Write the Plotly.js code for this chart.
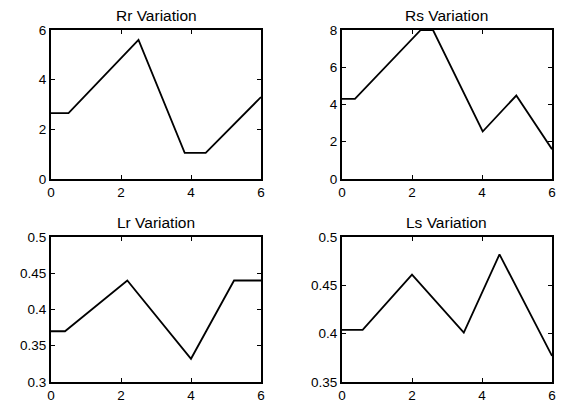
<!DOCTYPE html>
<html>
<head>
<meta charset="utf-8">
<script src="https://cdn.plot.ly/plotly-3.0.1.min.js"></script>
<style>html,body{margin:0;padding:0;background:#fff;}#chart{width:563px;height:410px;}</style>
</head>
<body>
<div id="chart"></div>
<script>
// Data
var titles = ["Rr Variation", "Rs Variation", "Lr Variation", "Ls Variation"];

var tRr = [0, 0.5, 2.5, 3.82, 4.42, 6];
var vRr = [2.65, 2.65, 5.6, 1.05, 1.05, 3.3];

var tRs = [0, 0.37, 2.25, 2.6, 4.02, 4.98, 6];
var vRs = [4.3, 4.3, 8, 8, 2.55, 4.48, 1.6];

var tLr = [0, 0.4, 2.18, 4.0, 5.23, 6];
var vLr = [0.37, 0.37, 0.44, 0.332, 0.44, 0.44];

var tLs = [0, 0.59, 2.0, 3.48, 4.5, 6];
var vLs = [0.404, 0.404, 0.461, 0.401, 0.482, 0.377];

var xTicks = [0, 2, 4, 6];
var yTicksRr = [0, 2, 4, 6];
var yTicksRs = [0, 2, 4, 6, 8];
var yTicksLr = [0.3, 0.35, 0.4, 0.45, 0.5];
var yTicksLrText = ["0.3", "0.35", "0.4", "0.45", "0.5"];
var yTicksLs = [0.35, 0.4, 0.45, 0.5];
var yTicksLsText = ["0.35", "0.4", "0.45", "0.5"];

var W = 563, H = 410;
function px(x){return x/W;}
function py(y){return 1 - y/H;}

var lineStyle = {color: "#000", width: 1.8};
var traces = [
  {x: tRr, y: vRr, xaxis: "x", yaxis: "y", mode: "lines", line: lineStyle, hoverinfo: "skip"},
  {x: tRs, y: vRs, xaxis: "x2", yaxis: "y2", mode: "lines", line: lineStyle, hoverinfo: "skip"},
  {x: tLr, y: vLr, xaxis: "x3", yaxis: "y3", mode: "lines", line: lineStyle, hoverinfo: "skip"},
  {x: tLs, y: vLs, xaxis: "x4", yaxis: "y4", mode: "lines", line: lineStyle, hoverinfo: "skip"}
];

var FONT = "Liberation Sans, Arial, sans-serif";
var tickFont = {family: FONT, size: 13.5, color: "#000"};
function ax(domain, range, tv, tt, anchor) {
  return {
    domain: domain, range: range, anchor: anchor,
    tickvals: tv, ticktext: tt || tv.map(String),
    showline: true, linecolor: "#000", linewidth: 2, mirror: "allticks",
    ticks: "inside", ticklen: 4, tickwidth: 1, tickcolor: "#000",
    showgrid: false, zeroline: false, tickfont: tickFont, fixedrange: true
  };
}

var xL = [px(51), px(261)], xR = [px(342), px(552)];
var yT = [py(179), py(30)], yB = [py(382), py(237)];

function title(text, xd, yd) {
  return {text: text, x: (xd[0]+xd[1])/2, y: yd[1], xref: "paper", yref: "paper",
          xanchor: "center", yanchor: "bottom", yshift: 4, showarrow: false,
          font: {family: FONT, size: 15.5, color: "#000"}};
}

var layout = {
  width: W, height: H,
  margin: {l: 0, r: 0, t: 0, b: 0},
  paper_bgcolor: "#fff", plot_bgcolor: "#fff",
  showlegend: false,
  xaxis: ax(xL, [0, 6], xTicks, null, "y"),
  yaxis: ax(yT, [0, 6], yTicksRr, null, "x"),
  xaxis2: ax(xR, [0, 6], xTicks, null, "y2"),
  yaxis2: ax(yT, [0, 8], yTicksRs, null, "x2"),
  xaxis3: ax(xL, [0, 6], xTicks, null, "y3"),
  yaxis3: ax(yB, [0.3, 0.5], yTicksLr, yTicksLrText, "x3"),
  xaxis4: ax(xR, [0, 6], xTicks, null, "y4"),
  yaxis4: ax(yB, [0.35, 0.5], yTicksLs, yTicksLsText, "x4"),
  annotations: [
    title(titles[0], xL, yT),
    title(titles[1], xR, yT),
    title(titles[2], xL, yB),
    title(titles[3], xR, yB)
  ]
};

Plotly.newPlot("chart", traces, layout, {staticPlot: true, displayModeBar: false});
</script>
</body>
</html>
